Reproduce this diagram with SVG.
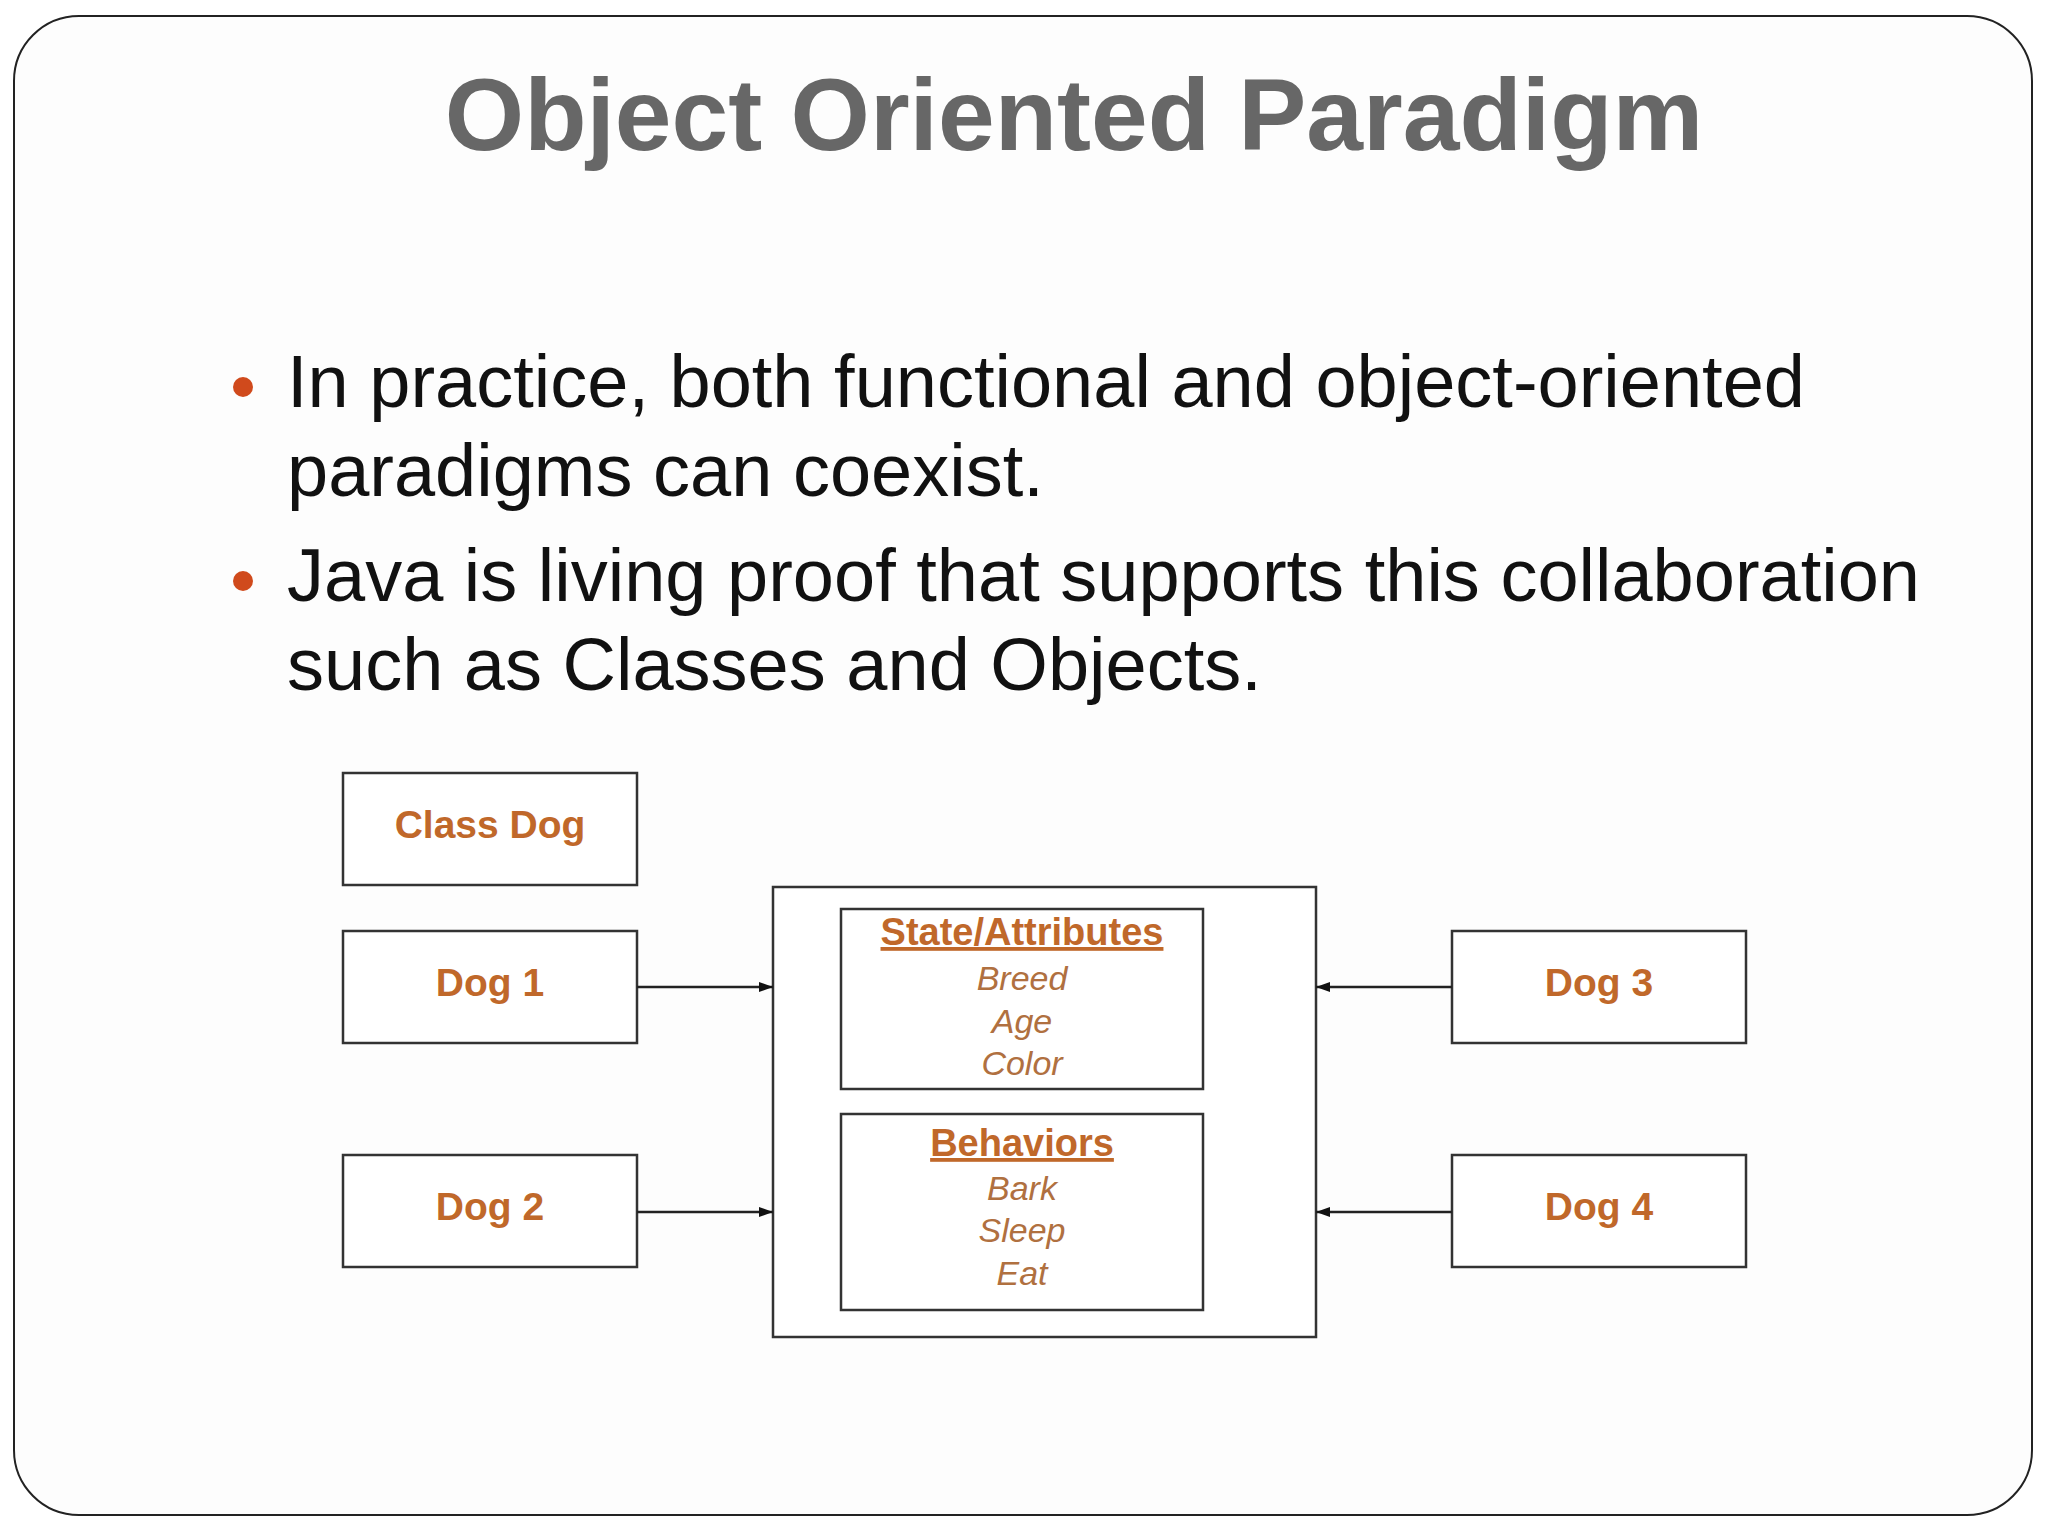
<svg xmlns="http://www.w3.org/2000/svg" width="2048" height="1536" viewBox="0 0 2048 1536">
<style>
.box{fill:#fff;stroke:#333;stroke-width:2.5}
.lbl{font-family:"Liberation Sans",Arial,sans-serif;font-weight:bold;font-size:39px;fill:#c0682a;text-anchor:middle}
.it{font-family:"Liberation Sans",Arial,sans-serif;font-style:italic;font-size:34px;fill:#b07040;text-anchor:middle}
.hd{font-family:"Liberation Sans",Arial,sans-serif;font-weight:bold;font-size:38px;fill:#c0682a;text-anchor:middle;text-decoration:underline}
.bt{font-family:"Liberation Sans",Arial,sans-serif;font-size:74px;fill:#111}
.conn{stroke:#222;stroke-width:2.5;fill:none;marker-end:url(#ah)}
</style>
<defs><marker id="ah" markerWidth="14" markerHeight="10" refX="14" refY="5" orient="auto" markerUnits="userSpaceOnUse"><path d="M0,0 L14,5 L0,10 z" fill="#111"/></marker></defs>
<rect x="0" y="0" width="2048" height="1536" fill="#fff"/>
<rect x="14" y="16" width="2018" height="1499" rx="65" fill="#fdfdfd" stroke="#222" stroke-width="2"/>
<text x="1074" y="150" font-family="Liberation Sans,Arial,sans-serif" font-weight="bold" font-size="102" fill="#676767" text-anchor="middle">Object Oriented Paradigm</text>
<circle cx="243" cy="387" r="10" fill="#d04a1c"/>
<circle cx="243" cy="581" r="10" fill="#d04a1c"/>
<text class="bt" x="287" y="407">In practice, both functional and object-oriented</text>
<text class="bt" x="287" y="496">paradigms can coexist.</text>
<text class="bt" x="287" y="601">Java is living proof that supports this collaboration</text>
<text class="bt" x="287" y="690">such as Classes and Objects.</text>
<g id="classdog"><rect class="box" x="343" y="773" width="294" height="112"/><text class="lbl" x="490" y="838">Class Dog</text></g>
<g id="dog1"><rect class="box" x="343" y="931" width="294" height="112"/><text class="lbl" x="490" y="996">Dog 1</text></g>
<g id="dog2"><rect class="box" x="343" y="1155" width="294" height="112"/><text class="lbl" x="490" y="1220">Dog 2</text></g>
<g id="dog3"><rect class="box" x="1452" y="931" width="294" height="112"/><text class="lbl" x="1599" y="996">Dog 3</text></g>
<g id="dog4"><rect class="box" x="1452" y="1155" width="294" height="112"/><text class="lbl" x="1599" y="1220">Dog 4</text></g>
<g id="object">
<rect class="box" x="773" y="887" width="543" height="450"/>
<rect class="box" x="841" y="909" width="362" height="180"/>
<text class="hd" x="1022" y="945">State/Attributes</text>
<text class="it" x="1022" y="990">Breed</text>
<text class="it" x="1022" y="1033">Age</text>
<text class="it" x="1022" y="1075">Color</text>
<rect class="box" x="841" y="1114" width="362" height="196"/>
<text class="hd" x="1022" y="1156">Behaviors</text>
<text class="it" x="1022" y="1200">Bark</text>
<text class="it" x="1022" y="1242">Sleep</text>
<text class="it" x="1022" y="1285">Eat</text>
</g>
<g id="connectors">
<line class="conn" x1="637" y1="987" x2="773" y2="987"/>
<line class="conn" x1="637" y1="1212" x2="773" y2="1212"/>
<line class="conn" x1="1452" y1="987" x2="1316" y2="987"/>
<line class="conn" x1="1452" y1="1212" x2="1316" y2="1212"/>
</g>
</svg>
